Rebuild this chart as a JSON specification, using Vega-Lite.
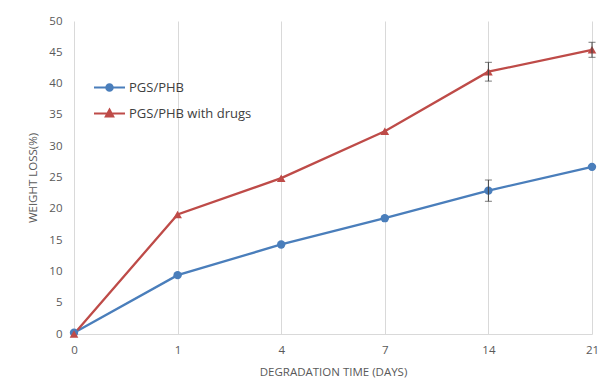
{
  "$schema": "https://vega.github.io/schema/vega-lite/v6.json",
  "autosize": "none",
  "width": 518,
  "height": 313,
  "padding": {"left": 74, "top": 21, "right": 7, "bottom": 51},
  "background": "white",
  "config": {
    "view": {"stroke": null},
    "font": "Open Sans",
    "axis": {"labelColor": "#595959", "titleColor": "#595959", "labelFontSize": 11.5, "titleFontSize": 11.5, "titleFontWeight": "normal", "labelFont": "Open Sans", "titleFont": "Open Sans"}
  },
  "data": {
    "values": [
      {"day": 0, "series": "PGS/PHB", "val": 0.2, "err": 0},
      {"day": 1, "series": "PGS/PHB", "val": 9.4, "err": 0},
      {"day": 4, "series": "PGS/PHB", "val": 14.3, "err": 0},
      {"day": 7, "series": "PGS/PHB", "val": 18.5, "err": 0},
      {"day": 14, "series": "PGS/PHB", "val": 22.9, "err": 1.7},
      {"day": 21, "series": "PGS/PHB", "val": 26.7, "err": 0},
      {"day": 0, "series": "PGS/PHB with drugs", "val": 0, "err": 0},
      {"day": 1, "series": "PGS/PHB with drugs", "val": 19.1, "err": 0},
      {"day": 4, "series": "PGS/PHB with drugs", "val": 24.9, "err": 0},
      {"day": 7, "series": "PGS/PHB with drugs", "val": 32.4, "err": 0},
      {"day": 14, "series": "PGS/PHB with drugs", "val": 41.9, "err": 1.5},
      {"day": 21, "series": "PGS/PHB with drugs", "val": 45.4, "err": 1.2}
    ]
  },
  "encoding": {
    "x": {
      "field": "day", "type": "ordinal",
      "scale": {"type": "point", "padding": 0},
      "axis": {"labelAngle": 0, "title": "DEGRADATION TIME (DAYS)", "grid": true, "gridColor": "#d9d9d9", "domainColor": "#d9d9d9", "ticks": false, "labelPadding": 10, "titlePadding": 11}
    },
    "y": {
      "field": "val", "type": "quantitative",
      "scale": {"domain": [0, 50]},
      "axis": {"values": [0,5,10,15,20,25,30,35,40,45,50], "title": "WEIGHT LOSS(%)", "grid": false, "domain": false, "ticks": false, "labelPadding": 12, "titlePadding": 10}
    },
    "color": {
      "field": "series", "type": "nominal",
      "scale": {"domain": ["PGS/PHB", "PGS/PHB with drugs"], "range": ["#4A7EBB", "#BE4B48"]},
      "legend": {
        "title": null, "orient": "none", "legendX": 29, "legendY": 60,
        "padding": 0, "rowPadding": 10, "symbolSize": 100, "labelOffset": 13,
        "labelFontSize": 13, "labelColor": "#404040", "labelFont": "Open Sans",
        "encode": {
          "symbols": {
            "update": {
              "shape": {"signal": "datum.value === 'PGS/PHB' ? 'M-3.1,0H3.1M-0.65,0A0.65,0.65 0 1,0 0.65,0A0.65,0.65 0 1,0 -0.65,0Z' : 'M-3.1,0H3.1M0,-0.8L0.75,0.6L-0.75,0.6Z'"},
              "fill": {"scale": "color", "field": "value"},
              "stroke": {"scale": "color", "field": "value"},
              "strokeWidth": {"value": 2},
              "opacity": {"value": 1},
              "fillOpacity": {"value": 1},
              "strokeOpacity": {"value": 1}
            }
          }
        }
      }
    }
  },
  "layer": [
    {"mark": {"type": "line", "strokeWidth": 2.3}},
    {
      "transform": [{"filter": "datum.series === 'PGS/PHB'"}],
      "mark": {"type": "point", "filled": true, "opacity": 1, "size": 70, "shape": "circle"}
    },
    {
      "transform": [{"filter": "datum.series !== 'PGS/PHB'"}],
      "mark": {"type": "point", "filled": true, "opacity": 1, "size": 75, "shape": "triangle-up"}
    },
    {
      "transform": [{"filter": "datum.err > 0"}],
      "mark": {"type": "errorbar", "ticks": {"size": 7, "color": "#404040"}, "color": "#404040", "thickness": 1},
      "encoding": {
        "y": {"field": "val", "type": "quantitative"},
        "yError": {"field": "err"},
        "color": {"value": "#404040"}
      }
    }
  ]
}
